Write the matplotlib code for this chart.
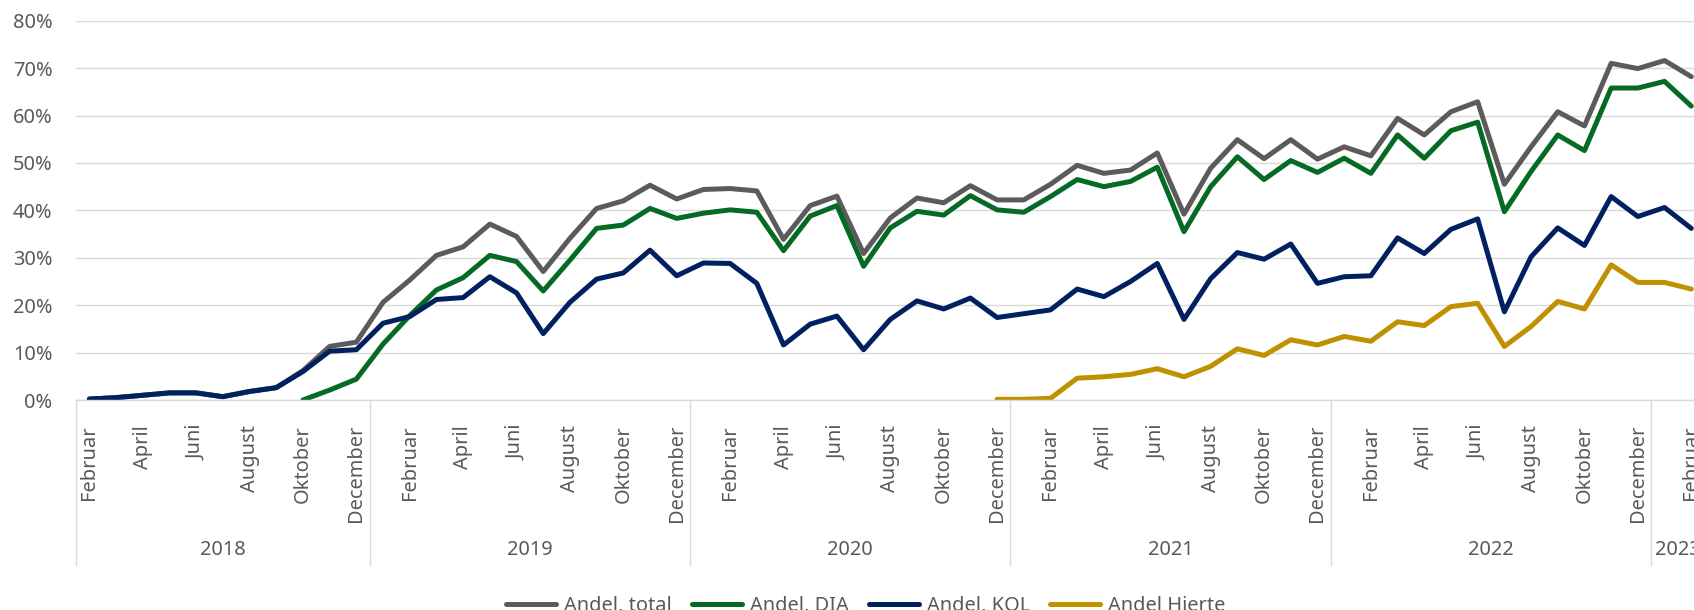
import numpy as np
import matplotlib
matplotlib.use("Agg")
import matplotlib.pyplot as plt
from matplotlib.transforms import blended_transform_factory

plt.rcParams["font.family"] = ["Noto Sans", "DejaVu Sans"]

# månedsdata fra februar 2018 til februar 2023 (andel i %)
month_names = ["Januar", "Februar", "Marts", "April", "Maj", "Juni", "Juli",
               "August", "September", "Oktober", "November", "December"]
start_year = 2018
start_month = 2
n_points = 61

nan = np.nan
andel_total = [0.2, 0.5, 1.0, 1.5, 1.5, 0.7, 1.8, 2.6, 6.2, 11.3,
               12.2, 20.6, 25.3, 30.5, 32.3, 37.1, 34.5, 27.1, 34.1, 40.4,
               42.0, 45.3, 42.4, 44.4, 44.6, 44.1, 33.9, 41.0, 43.0, 30.9,
               38.4, 42.6, 41.6, 45.2, 42.2, 42.2, 45.5, 49.5, 47.8, 48.5,
               52.1, 39.2, 48.9, 54.9, 50.9, 54.9, 50.8, 53.4, 51.5, 59.4,
               55.9, 60.8, 62.9, 45.5, 53.4, 60.8, 57.8, 71.0, 69.9, 71.6, 68.2]
andel_dia = [nan] * 8 + [0.0, 2.1, 4.4, 11.8, 17.8, 23.2, 25.8, 30.5, 29.2, 23.0,
                         29.5, 36.2, 36.9, 40.4, 38.3, 39.4, 40.1, 39.6, 31.5, 38.8,
                         41.0, 28.2, 36.3, 39.8, 39.0, 43.1, 40.1, 39.6, 42.9, 46.5,
                         45.0, 46.1, 49.1, 35.5, 45.0, 51.3, 46.5, 50.5, 48.0, 51.0,
                         47.8, 55.9, 51.0, 56.8, 58.6, 39.7, 48.2, 55.9, 52.6, 65.8,
                         65.8, 67.2, 62.0]
andel_kol = [0.2, 0.5, 1.0, 1.5, 1.5, 0.7, 1.8, 2.6, 6.0, 10.3,
             10.6, 16.2, 17.6, 21.2, 21.6, 26.0, 22.6, 14.0, 20.6, 25.5,
             26.8, 31.6, 26.2, 28.9, 28.8, 24.6, 11.6, 16.0, 17.7, 10.6,
             17.0, 20.9, 19.2, 21.5, 17.4, 18.2, 19.0, 23.4, 21.8, 25.0,
             28.8, 17.0, 25.6, 31.1, 29.7, 32.9, 24.6, 26.0, 26.2, 34.2,
             30.9, 36.0, 38.2, 18.6, 30.2, 36.3, 32.6, 42.9, 38.7, 40.6, 36.2]
andel_hjerte = [nan] * 34 + [0.15, 0.15, 0.35, 4.6, 4.9, 5.4, 6.6, 4.9, 7.1, 10.8,
                             9.4, 12.7, 11.6, 13.4, 12.4, 16.5, 15.7, 19.7, 20.4, 11.3,
                             15.5, 20.8, 19.2, 28.5, 24.8, 24.8, 23.4]

series = [("Andel, total", andel_total, "#5b5b5b"),
          ("Andel, DIA", andel_dia, "#056a24"),
          ("Andel, KOL", andel_kol, "#002060"),
          ("Andel Hjerte", andel_hjerte, "#bf9000")]

# måned og år for hvert punkt
months = []
years = []
for k in range(n_points):
    m = start_month - 1 + k
    months.append(month_names[m % 12])
    years.append(start_year + m // 12)

x = np.arange(n_points)
text_color = "#595959"
grid_color = "#d9d9d9"

fig = plt.figure(figsize=(16.94, 6.10), dpi=100)
ax = fig.add_axes([76 / 1694, 210 / 610, 1628.6 / 1694, 379.3 / 610])

for name, values, color in series:
    ax.plot(x, np.array(values, dtype=float), color=color, lw=3.6,
            solid_capstyle="round", solid_joinstyle="round", label=name)

ax.set_xlim(-0.5, n_points - 0.5)
ax.set_ylim(0, 80)
ax.set_yticks(range(0, 81, 10))
ax.set_yticklabels([f"{v}%" for v in range(0, 81, 10)])
ax.grid(axis="y", color=grid_color, lw=1.0)
ax.set_axisbelow(True)
for s in ["top", "right", "left"]:
    ax.spines[s].set_visible(False)
ax.spines["bottom"].set_color(grid_color)
ax.spines["bottom"].set_linewidth(1.0)
ax.tick_params(axis="y", length=0, pad=17, labelsize=14.4, labelcolor=text_color)

# hver anden måned som etiket
tick_pos = x[::2]
ax.set_xticks(tick_pos)
ax.set_xticklabels([months[k] for k in tick_pos], rotation=90)
ax.tick_params(axis="x", length=0, pad=18, labelsize=14.4, labelcolor=text_color)

# årsgrupper med skillelinjer
tr_line = blended_transform_factory(ax.transData, ax.transAxes)
tr_text = blended_transform_factory(ax.transData, fig.transFigure)
year_list = sorted(set(years))
for yr in year_list:
    idx = [k for k in range(n_points) if years[k] == yr]
    left = idx[0] - 0.5
    right = idx[-1] + 0.5
    ax.plot([left, left], [0, -0.435], transform=tr_line, color=grid_color,
            lw=1.0, clip_on=False)
    ax.text((left + right) / 2, 60 / 610, str(yr), transform=tr_text,
            ha="center", va="center", fontsize=14.4, color=text_color)

fig.legend(loc="center", bbox_to_anchor=(0.511, 4 / 610), ncol=4, frameon=False,
           fontsize=14.4, labelcolor=text_color, handlelength=2.5,
           handletextpad=0.4, columnspacing=1.0)

fig.savefig("out.png", dpi=100)
